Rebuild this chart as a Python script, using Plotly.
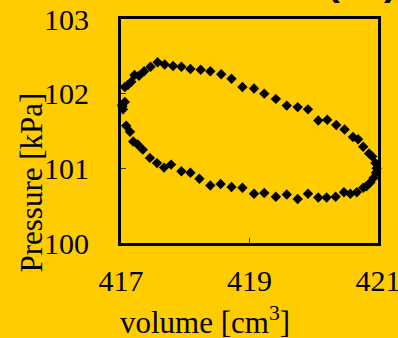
import plotly.graph_objects as go

volume = [417.02, 417.06, 417.11, 417.16, 417.21, 417.28, 417.36, 417.46, 417.57, 417.68,
          417.81, 417.94, 418.08, 418.24, 418.39, 418.56, 418.72, 418.89, 419.07, 419.23,
          419.41, 419.58, 419.75, 419.91, 420.07, 420.21, 420.35, 420.48, 420.61, 420.69,
          420.77, 420.86, 420.91, 420.96, 420.98,
          420.97, 420.93, 420.88, 420.82, 420.77, 420.67, 420.57, 420.47, 420.34, 420.20,
          420.07, 419.91, 419.75, 419.58, 419.41, 419.23, 419.07, 418.89, 418.72, 418.55,
          418.39, 418.22, 418.08, 417.94, 417.78, 417.67, 417.56, 417.45, 417.34, 417.26,
          417.19, 417.14, 417.08, 417.03, 417.06, 417.02]
pressure = [101.85, 102.09, 102.12, 102.16, 102.25, 102.24, 102.30, 102.36, 102.42, 102.39,
            102.37, 102.36, 102.33, 102.32, 102.30, 102.26, 102.20, 102.09, 102.07, 102.00,
            101.93, 101.84, 101.82, 101.79, 101.64, 101.65, 101.58, 101.52, 101.42, 101.39,
            101.29, 101.20, 101.16, 101.07, 101.00,
            100.94, 100.87, 100.81, 100.76, 100.74, 100.68, 100.66, 100.68, 100.62, 100.61,
            100.61, 100.66, 100.59, 100.65, 100.62, 100.67, 100.66, 100.74, 100.75, 100.79,
            100.77, 100.86, 100.94, 100.96, 101.05, 101.01, 101.07, 101.14, 101.25, 101.32,
            101.36, 101.49, 101.57, 101.79, 101.89, 101.83]

x_ticks = [417, 419, 421]
y_ticks = [100, 101, 102, 103]

BG = "#FFCC00"
FONT = "Liberation Serif"

fig = go.Figure()
fig.add_trace(go.Scatter(
    x=volume, y=pressure, mode="markers",
    marker=dict(symbol="diamond", size=8, color="black"),
    cliponaxis=False, showlegend=False, hoverinfo="skip",
))

axis_common = dict(
    showline=True, linecolor="black", linewidth=3, mirror=True,
    showgrid=False, zeroline=False, automargin=False,
    ticks="inside", ticklen=5, tickwidth=1, tickcolor="#333300",
    ticklabeloverflow="allow",
    tickfont=dict(family=FONT, size=30, color="black"),
)

fig.update_layout(
    width=398, height=338,
    margin=dict(l=121, r=20, t=19, b=95, autoexpand=False),
    paper_bgcolor=BG, plot_bgcolor=BG,
    xaxis=dict(range=[417, 421], tickvals=x_ticks, ticktext=[str(v) for v in x_ticks],
               ticklabelstandoff=9, **axis_common),
    yaxis=dict(range=[100, 103], tickvals=y_ticks, ticktext=[str(v) for v in y_ticks],
               ticklabelstandoff=23, **axis_common),
    annotations=[
        dict(text="volume [cm<sup>3</sup>]", xref="paper", yref="paper",
             x=-0.01, y=-0.25, xanchor="left", yanchor="top", showarrow=False,
             font=dict(family=FONT, size=31, color="black")),
        dict(text="Pressure [kPa]", xref="paper", yref="paper", textangle=-90,
             x=-0.350, y=0.27, xanchor="center", yanchor="middle", showarrow=False,
             font=dict(family=FONT, size=31, color="black")),
        dict(text="(b1)", xref="paper", yref="paper",
             x=1.08, y=1.064, xanchor="right", yanchor="bottom", showarrow=False,
             font=dict(family="Liberation Sans", size=38, color="black", weight="bold")),
    ],
)

fig.write_html("out.html", config={"displayModeBar": False, "staticPlot": True},
               post_script="document.body.style.margin='0';document.body.style.overflow='hidden';")
